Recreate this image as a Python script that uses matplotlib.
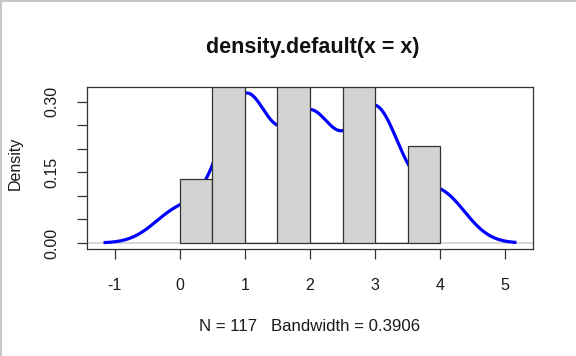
import numpy as np
import matplotlib
matplotlib.use("Agg")
import matplotlib.pyplot as plt
from matplotlib.lines import Line2D

# ---- data ----
values = [0, 1, 2, 3, 4]          # observed values
counts = [8, 35, 30, 32, 12]      # how often each value occurs (N = 117)
bandwidth = 0.3906
breaks = [0, 0.5, 1, 1.5, 2, 2.5, 3, 3.5, 4]
x_ticks = [-1, 0, 1, 2, 3, 4, 5]
y_ticks = [0.0, 0.05, 0.10, 0.15, 0.20, 0.25, 0.30]
y_ticklabels = ["0.00", "", "", "0.15", "", "", "0.30"]
title = "density.default(x = x)"

obs = np.repeat(values, counts).astype(float)
N = len(obs)

# Gaussian kernel density (R: density(x), cut = 3)
grid = np.linspace(obs.min() - 3 * bandwidth, obs.max() + 3 * bandwidth, 512)
dens = np.exp(-0.5 * ((grid[:, None] - obs[None, :]) / bandwidth) ** 2).sum(axis=1)
dens /= N * bandwidth * np.sqrt(2 * np.pi)

# histogram with right-closed bins (R default, include.lowest)
br = np.array(breaks)
idx = np.clip(np.searchsorted(br, obs, side="left") - 1, 0, len(br) - 2)
hcounts = np.bincount(idx, minlength=len(br) - 1)
hdens = hcounts / (N * np.diff(br))

plt.rcParams["font.family"] = ["Liberation Sans", "DejaVu Sans"]

W, H = 576, 356
fig = plt.figure(figsize=(W / 100, H / 100), dpi=100)
fig.patch.set_facecolor("white")
ax = fig.add_axes([87 / W, 1 - 249 / H, (533 - 87) / W, (249 - 87) / H])

# R-style axis ranges (4% expansion)
xr = grid.max() - grid.min()
ax.set_xlim(grid.min() - 0.04 * xr, grid.max() + 0.04 * xr)
ymax = dens.max()
ax.set_ylim(-0.04 * ymax, ymax * 1.04)

ax.axhline(0, color="#cfcfcf", lw=1.2, zorder=1)
ax.plot(grid, dens, color="#0000ff", lw=2.3, zorder=2, solid_capstyle="butt")
ax.bar(br[:-1], hdens, width=np.diff(br), align="edge", color="#d3d3d3",
       edgecolor="#333333", linewidth=0.9, zorder=3)

for s in ax.spines.values():
    s.set_color("#333333")
    s.set_linewidth(0.9)
    s.set_zorder(4)

ax.set_xticks(x_ticks)
ax.set_xticklabels([str(t) for t in x_ticks])
ax.set_yticks(y_ticks)
ax.set_yticklabels(y_ticklabels, rotation=90, va="center")
ax.tick_params(axis="both", length=7, width=0.9, color="#333333",
               labelsize=11.5, labelcolor="#1a1a1a")
ax.tick_params(axis="x", pad=14)
ax.tick_params(axis="y", pad=13)

fig.text(313 / W, 1 - 52.5 / H, title, ha="center", va="baseline",
         fontsize=15.5, fontweight="bold", color="#111111")
fig.text(309.5 / W, 1 - 331 / H, "N = 117   Bandwidth = 0.3906", ha="center",
         va="baseline", fontsize=12.1, color="#1a1a1a")
fig.text(15 / W, 1 - 163 / H, "Density", ha="center", va="center",
         rotation=90, fontsize=11.5, color="#1a1a1a")

# light grey frame at the top and left edges of the image
fig.add_artist(Line2D([0.5 / W, 0.5 / W], [0, 1], transform=fig.transFigure,
                      color="#c8c8c8", lw=1.5))
fig.add_artist(Line2D([0, 1], [1 - 0.5 / H, 1 - 0.5 / H], transform=fig.transFigure,
                      color="#c8c8c8", lw=1.5))

fig.savefig("out.png", dpi=100)
